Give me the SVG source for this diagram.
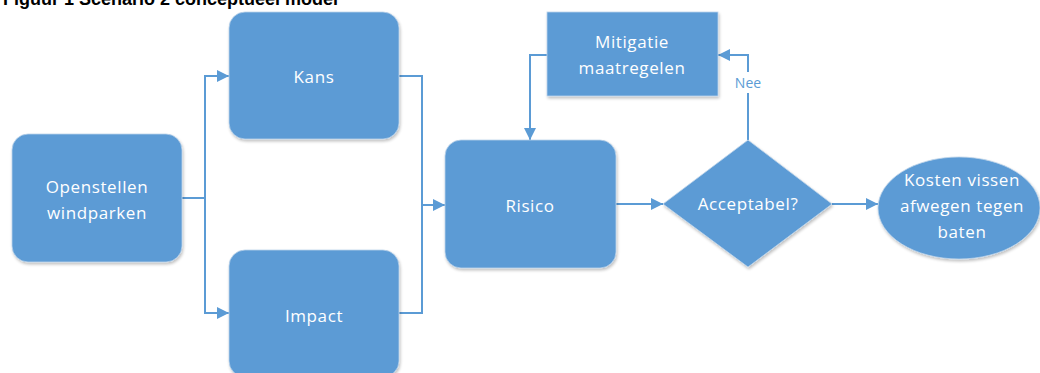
<svg xmlns="http://www.w3.org/2000/svg" width="1040" height="373" viewBox="0 0 1040 373">
<defs>
<filter id="sh" x="-10%" y="-10%" width="125%" height="125%">
<feGaussianBlur in="SourceAlpha" stdDeviation="1.5"/>
<feOffset dx="1" dy="2" result="b"/>
<feComponentTransfer><feFuncA type="linear" slope="0.25"/></feComponentTransfer>
<feMerge><feMergeNode/><feMergeNode in="SourceGraphic"/></feMerge>
</filter>
<marker id="ah" viewBox="0 0 12 12" refX="12" refY="6" markerWidth="12" markerHeight="12" markerUnits="userSpaceOnUse" orient="auto">
<path d="M0,0 L12,6 L0,12 Z" fill="#5b9bd5"/>
</marker>
</defs>
<style>
.n{fill:#5b9bd5;stroke:#bcd3ea;stroke-width:0.8;filter:url(#sh)}
.t{fill:#fff;font-family:"Open Sans","Noto Sans",sans-serif;font-size:17px;text-anchor:middle;letter-spacing:0.6px}
.c{fill:none;stroke:#5b9bd5;stroke-width:2}
.title{font-family:"Liberation Sans",Arial,sans-serif;font-weight:bold;font-size:18px;fill:#000}
</style>
<rect width="1040" height="373" fill="#fff"/>
<text class="title" x="3" y="5">Figuur 1 Scenario 2 conceptueel model</text>
<g id="connectors">
<polyline class="c" points="182,198 205,198"/>
<polyline class="c" points="205,198 205,76 229,76" marker-end="url(#ah)"/>
<polyline class="c" points="205,198 205,313 229,313" marker-end="url(#ah)"/>
<polyline class="c" points="399,76 422,76 422,313 399,313"/>
<polyline class="c" points="422,205 445,205" marker-end="url(#ah)"/>
<polyline class="c" points="616,204 663,204" marker-end="url(#ah)"/>
<polyline class="c" points="832,204 878,204" marker-end="url(#ah)"/>
<polyline class="c" points="748,140 748,55 718,55" marker-end="url(#ah)"/>
<polyline class="c" points="547,55 530,55 530,140" marker-end="url(#ah)"/>
<rect x="732" y="72" width="32" height="21" fill="#fff"/>
<text x="748" y="88" style="fill:#5b9bd5;font-family:'Open Sans','Noto Sans',sans-serif;font-size:14px;text-anchor:middle">Nee</text>
</g>
<g id="openstellen">
<rect class="n" x="12" y="134" width="170" height="128" rx="16"/>
<text class="t" x="97" y="193">Openstellen</text>
<text class="t" x="97" y="219">windparken</text>
</g>
<g id="kans">
<rect class="n" x="229" y="12" width="170" height="127" rx="16"/>
<text class="t" x="314" y="83">Kans</text>
</g>
<g id="impact">
<rect class="n" x="229" y="250" width="170" height="127" rx="16"/>
<text class="t" x="314" y="322">Impact</text>
</g>
<g id="risico">
<rect class="n" x="445" y="140" width="171" height="128" rx="16"/>
<text class="t" x="530" y="212">Risico</text>
</g>
<g id="mitigatie">
<rect class="n" x="547" y="12" width="171" height="84"/>
<text class="t" x="632" y="48">Mitigatie</text>
<text class="t" x="632" y="74">maatregelen</text>
</g>
<g id="acceptabel">
<polygon class="n" points="748,140 832,204 748,267 663,204"/>
<text class="t" x="748" y="210">Acceptabel?</text>
</g>
<g id="kosten">
<ellipse class="n" cx="959" cy="208" rx="81" ry="51"/>
<text class="t" x="962" y="186">Kosten vissen</text>
<text class="t" x="962" y="212">afwegen tegen</text>
<text class="t" x="962" y="238">baten</text>
</g>
</svg>
